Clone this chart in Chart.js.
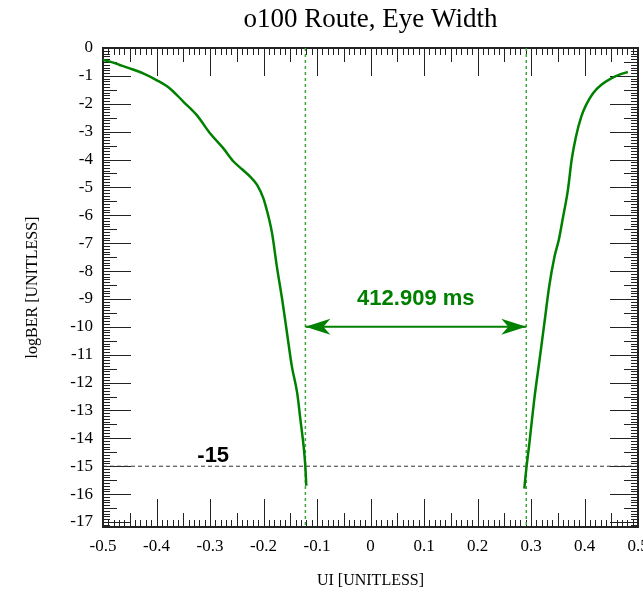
<!DOCTYPE html>
<html>
<head>
<meta charset="utf-8">
<title>o100 Route, Eye Width</title>
<script src="https://cdn.jsdelivr.net/npm/chart.js@4.4.0/dist/chart.umd.min.js"></script>
<style>
  html, body { margin: 0; padding: 0; background: #fff; overflow: hidden; }
  #wrap { width: 643px; height: 592px; }
</style>
</head>
<body>
<div id="wrap"><canvas id="eyeChart" width="643" height="592"></canvas></div>
<script>
// bathtub curve, left side (UI vs logBER)
const leftUI = [-0.5, -0.487, -0.47, -0.45, -0.425, -0.4, -0.375, -0.35, -0.325, -0.3,
    -0.275, -0.256, -0.24, -0.225, -0.212, -0.2, -0.194, -0.19, -0.184, -0.175,
    -0.165, -0.156, -0.147, -0.137, -0.131, -0.125, -0.122, -0.12];
const leftLogBER = [-0.43, -0.49, -0.6, -0.73, -0.91, -1.15, -1.45, -1.92, -2.4, -3.06,
    -3.6, -4.07, -4.35, -4.61, -4.91, -5.4, -5.8, -6.1, -6.64, -7.84,
    -9.03, -10.23, -11.42, -12.38, -13.33, -14.29, -14.95, -15.7];

// right side
const rightUI = [0.2875, 0.291, 0.297, 0.306, 0.316, 0.325, 0.334, 0.344, 0.352, 0.359,
    0.369, 0.376, 0.384, 0.394, 0.403, 0.416, 0.431, 0.45, 0.469, 0.481];
const rightLogBER = [-15.8, -15.13, -14.17, -12.62, -11.18, -9.87, -8.55, -7.48, -6.88, -6.16,
    -5.09, -4.01, -3.18, -2.46, -2.04, -1.62, -1.33, -1.09, -0.93, -0.86];

const eyeEdges = [-0.1217, 0.2912];
const berTarget = -15;
const arrowLevel = -10;
const eyeWidthLabel = '412.909 ms';

const xTicks = [-0.5, -0.4, -0.3, -0.2, -0.1, 0, 0.1, 0.2, 0.3, 0.4, 0.5];
const xTickLabels = ['-0.5', '-0.4', '-0.3', '-0.2', '-0.1', '0', '0.1', '0.2', '0.3', '0.4', '0.5'];
const yTicks = [0, -1, -2, -3, -4, -5, -6, -7, -8, -9, -10, -11, -12, -13, -14, -15, -16, -17];
const yTickLabels = ['0', '-1', '-2', '-3', '-4', '-5', '-6', '-7', '-8', '-9', '-10',
    '-11', '-12', '-13', '-14', '-15', '-16', '-17'];

const serif = "'Liberation Serif', 'Times New Roman', serif";
const sans = "'Liberation Sans', Arial, sans-serif";
const green = '#008000';

function pts(xs, ys) {
    return xs.map((v, i) => ({ x: v, y: ys[i] }));
}

// frame, comb ticks, arrow heads and the two labels
const eyeDecor = {
    id: 'eyeDecor',
    beforeDatasetsDraw(chart) {
        const { ctx, chartArea: a, scales: { x, y } } = chart;
        ctx.save();
        ctx.strokeStyle = '#222';
        ctx.lineWidth = 1;
        ctx.beginPath();
        for (let i = -50; i <= 50; i++) {
            const px = Math.round(x.getPixelForValue(i / 100)) + 0.5;
            const len = i % 10 === 0 ? 28 : (i % 5 === 0 ? 14 : 7);
            ctx.moveTo(px, a.bottom);
            ctx.lineTo(px, a.bottom - len);
            ctx.moveTo(px, a.top);
            ctx.lineTo(px, a.top + len);
        }
        for (let j = 0; j >= -171; j--) {
            const py = Math.round(y.getPixelForValue(j / 10)) + 0.5;
            const len = j % 10 === 0 ? 28 : (j % 5 === 0 ? 14 : 7);
            ctx.moveTo(a.left, py);
            ctx.lineTo(a.left + len, py);
            ctx.moveTo(a.right, py);
            ctx.lineTo(a.right - len, py);
        }
        ctx.stroke();
        ctx.lineWidth = 2;
        ctx.strokeRect(a.left, a.top, a.right - a.left, a.bottom - a.top);
        ctx.restore();
    },
    afterDatasetsDraw(chart) {
        const { ctx, scales: { x, y } } = chart;
        const yA = y.getPixelForValue(arrowLevel);
        const xl = x.getPixelForValue(eyeEdges[0]);
        const xr = x.getPixelForValue(eyeEdges[1]);
        ctx.save();
        ctx.fillStyle = green;
        [[xl, 1], [xr, -1]].forEach(([tip, dir]) => {
            ctx.beginPath();
            ctx.moveTo(tip, yA);
            ctx.lineTo(tip + dir * 25, yA - 8);
            ctx.lineTo(tip + dir * 18, yA);
            ctx.lineTo(tip + dir * 25, yA + 8);
            ctx.closePath();
            ctx.fill();
        });
        ctx.font = 'bold 22px ' + sans;
        ctx.textAlign = 'center';
        ctx.textBaseline = 'alphabetic';
        ctx.fillText(eyeWidthLabel, (xl + xr) / 2, yA - 22);
        ctx.fillStyle = '#000';
        ctx.fillText(String(berTarget), x.getPixelForValue(-0.294), y.getPixelForValue(berTarget) - 4);
        ctx.restore();
    }
};

const ctx = document.getElementById('eyeChart').getContext('2d');

const eyeChart = new Chart(ctx, {
    type: 'scatter',
    data: {
        datasets: [
            {
                data: pts(leftUI, leftLogBER),
                borderColor: green, borderWidth: 2.5,
                showLine: true, pointRadius: 0, cubicInterpolationMode: 'monotone'
            },
            {
                data: pts(rightUI, rightLogBER),
                borderColor: green, borderWidth: 2.5,
                showLine: true, pointRadius: 0, cubicInterpolationMode: 'monotone'
            },
            {
                data: pts([eyeEdges[0], eyeEdges[1]], [arrowLevel, arrowLevel]),
                borderColor: green, borderWidth: 2,
                showLine: true, pointRadius: 0
            },
            {
                data: pts([-0.5, 0.5], [berTarget, berTarget]),
                borderColor: '#333', borderWidth: 1, borderDash: [4, 3],
                showLine: true, pointRadius: 0
            },
            {
                data: pts([eyeEdges[0], eyeEdges[0]], [0, -17.18]),
                borderColor: '#3ea23e', borderWidth: 1.5, borderDash: [3, 3],
                showLine: true, pointRadius: 0
            },
            {
                data: pts([eyeEdges[1], eyeEdges[1]], [0, -17.18]),
                borderColor: '#3ea23e', borderWidth: 1.5, borderDash: [3, 3],
                showLine: true, pointRadius: 0
            }
        ]
    },
    options: {
        responsive: false,
        animation: false,
        layout: { padding: { left: 0, right: 5, top: 0, bottom: 0 } },
        plugins: {
            legend: { display: false },
            tooltip: { enabled: false },
            title: {
                display: true,
                text: 'o100 Route, Eye Width',
                color: '#000',
                fullSize: false,
                font: { family: serif, size: 27, weight: 'normal' },
                padding: { top: 4, bottom: 11.6 }
            }
        },
        scales: {
            x: {
                type: 'linear',
                min: -0.5,
                max: 0.5,
                afterBuildTicks: s => { s.ticks = xTicks.map(v => ({ value: v })); },
                afterFit: s => { s.height = 65; s.paddingLeft = 0; s.paddingRight = 0; },
                grid: { display: false, drawTicks: false },
                border: { display: false },
                ticks: {
                    padding: 9,
                    color: '#000',
                    autoSkip: false,
                    maxRotation: 0,
                    font: { family: serif, size: 17 },
                    callback: (v, i) => xTickLabels[i]
                },
                title: {
                    display: true,
                    text: 'UI [UNITLESS]',
                    color: '#000',
                    font: { family: serif, size: 16 },
                    padding: { top: 0, bottom: 2 }
                }
            },
            y: {
                type: 'linear',
                min: -17.18,
                max: 0,
                afterBuildTicks: s => { s.ticks = yTicks.map(v => ({ value: v })); },
                afterFit: s => { s.width = 103; },
                grid: { display: false, drawTicks: false },
                border: { display: false },
                ticks: {
                    padding: 10,
                    color: '#000',
                    autoSkip: false,
                    font: { family: serif, size: 17 },
                    callback: (v, i) => yTickLabels[i]
                },
                title: {
                    display: true,
                    text: 'logBER [UNITLESS]',
                    color: '#000',
                    font: { family: serif, size: 16 },
                    padding: { top: 23, bottom: 0 }
                }
            }
        }
    },
    plugins: [eyeDecor]
});
</script>
</body>
</html>
